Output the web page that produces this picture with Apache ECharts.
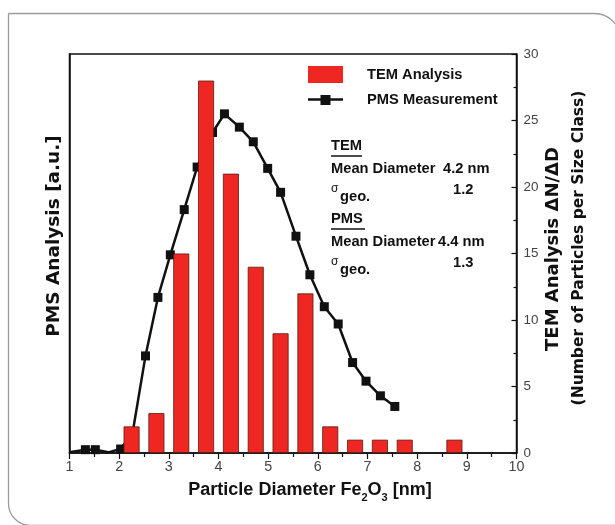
<!DOCTYPE html>
<html>
<head>
<meta charset="utf-8">
<script src="https://cdn.jsdelivr.net/npm/echarts@6/dist/echarts.min.js"></script>
<style>html,body{margin:0;padding:0;background:#fff;}#c{width:615px;height:525px;}</style>
</head>
<body>
<div id="c"></div>
<script>
// ---- data ----
const temX = [2.25, 2.75, 3.25, 3.75, 4.25, 4.75, 5.25, 5.75, 6.25, 6.75, 7.25, 7.75, 8.75];
const temY = [2, 3, 15, 28, 21, 14, 9, 12, 2, 1, 1, 1, 1];
const pmsX = [1.0, 1.32, 1.52, 1.78, 2.03, 2.27, 2.53, 2.78, 3.03, 3.31, 3.57, 3.88, 4.12, 4.42, 4.70, 4.99, 5.25, 5.56, 5.84, 6.13, 6.41, 6.70, 6.97, 7.26, 7.55];
const pmsY = [0.05, 0.25, 0.25, 0.05, 0.3, 1.5, 7.3, 11.7, 14.9, 18.3, 21.5, 24.1, 25.5, 24.5, 23.4, 21.4, 19.6, 16.3, 13.4, 11.0, 9.7, 6.8, 5.4, 4.3, 3.5];
const xTicks = ['1','2','3','4','5','6','7','8','9','10'];
const yTicks = ['0','5','10','15','20','25','30'];
const seriesNames = ['TEM Analysis', 'PMS Measurement'];

function hasFont(name){
  const c = document.createElement('canvas').getContext('2d');
  const s = 'abcdefghijklmnopqrstuvwxyzABCDEFGHIJ0123456789';
  c.font = '40px monospace'; const w1 = c.measureText(s).width;
  c.font = '40px "' + name + '", monospace'; const w2 = c.measureText(s).width;
  return Math.abs(w1 - w2) > 0.5;
}
const NARROW = hasFont('Liberation Sans Narrow');
const NF = NARROW ? '"Liberation Sans Narrow", "Liberation Sans", sans-serif' : '"Liberation Sans", Arial, sans-serif';
const K = NARROW ? 1 : 0.84;
const WF = '"DejaVu Sans", sans-serif';
const AF = '"Liberation Sans", Arial, sans-serif';

const chart = echarts.init(document.getElementById('c'), null, {renderer: 'canvas'});

// points whose marker is not drawn (line passes through the axis / is hidden)
const hiddenMarker = new Set([0, 3]);

// legend icon for the line series: line with a small square marker (35 x 17 box)
const lineIcon = 'path://M0,0L0.01,0L0.01,0.01ZM35,17L34.99,17L34.99,16.99Z' +
  'M0,7.2L35,7.2L35,9.8L0,9.8Z' +
  'M12.5,4L22.5,4L22.5,14L12.5,14Z';

const txt = (x, y, text, size, opts) => Object.assign({
  type: 'text', x: x, y: y, z: 10,
  style: Object.assign({text: text, font: 'bold ' + size + 'px ' + NF, fill: '#111', align: 'left', verticalAlign: 'middle'}, opts || {})
});

const option = {
  backgroundColor: '#fff',
  animation: false,
  grid: {left: 69.5, right: 98.5, top: 54, bottom: 72, show: true, borderColor: '#111', borderWidth: 1.5, backgroundColor: 'transparent'},
  legend: {
    data: [
      {name: seriesNames[0], icon: 'rect', itemStyle: {borderWidth: 0}},
      {name: seriesNames[1], icon: lineIcon, itemStyle: {borderWidth: 0, color: '#111'}}
    ],
    orient: 'vertical', left: 308, top: 66, padding: 0,
    itemWidth: 35, itemHeight: 17, itemGap: 8,
    textStyle: {fontFamily: NF, fontWeight: 'bold', fontSize: 17.5 * K, color: '#111', lineHeight: 17, padding: [0, 0, 0, 19]}
  },
  xAxis: {
    type: 'value', min: 1, max: 10, interval: 1,
    axisLine: {show: true, lineStyle: {color: '#111', width: 1.5}},
    axisTick: {show: true, inside: false, length: 6, lineStyle: {color: '#111', width: 1.2}},
    minorTick: {show: true, splitNumber: 2, length: 4, lineStyle: {color: '#111', width: 1.2}},
    splitLine: {show: false},
    axisLabel: {margin: 7, fontFamily: NF, fontSize: 17 * K, color: '#444', formatter: (v) => xTicks[Math.round(v) - 1]}
  },
  yAxis: [
    {
      type: 'value', position: 'left', min: 0, max: 30, interval: 5,
      axisLine: {show: true, lineStyle: {color: '#111', width: 1.5}},
      axisTick: {show: false}, axisLabel: {show: false}, splitLine: {show: false}
    },
    {
      type: 'value', position: 'right', min: 0, max: 30, interval: 5,
      axisLine: {show: true, lineStyle: {color: '#111', width: 1.5}},
      axisTick: {show: true, inside: true, length: 5, lineStyle: {color: '#111', width: 1.2}},
      minorTick: {show: true, splitNumber: 2, length: 3, lineStyle: {color: '#111', width: 1.2}},
      splitLine: {show: false},
      axisLabel: {margin: 7, fontFamily: NF, fontSize: 16 * K, color: '#444', formatter: (v) => yTicks[Math.round(v / 5)]}
    }
  ],
  series: [
    {
      name: seriesNames[1], type: 'line', yAxisIndex: 0,
      data: pmsX.map((x, i) => hiddenMarker.has(i) ? {value: [x, pmsY[i]], symbol: 'none'} : [x, pmsY[i]]),
      symbol: 'rect',
      symbolSize: 9,
      lineStyle: {color: '#111', width: 2.5},
      itemStyle: {color: '#111'},
      z: 2
    },
    {
      name: seriesNames[0], type: 'bar', yAxisIndex: 1,
      data: temX.map((x, i) => [x, temY[i]]),
      barWidth: 16,
      itemStyle: {color: '#ee2722', borderColor: '#5a1a14', borderWidth: 0.8},
      z: 3
    }
  ],
  graphic: [
    {type: 'rect', z: -1, silent: true, shape: {x: 8.5, y: 13.5, width: 612, height: 512, r: [0, 26, 0, 22]},
      style: {fill: 'none', stroke: '#9a9a9a', lineWidth: 1.3}},
    // x axis title
    {type: 'text', x: 310, y: 490, z: 10, style: {
      text: '{a|Particle Diameter Fe}{s|2}{a|O}{s|3}{a| [nm]}', align: 'center', verticalAlign: 'middle',
      rich: {a: {font: 'bold 18px ' + AF, fill: '#111', lineHeight: 26},
             s: {font: 'bold 11px ' + AF, fill: '#111', lineHeight: 11, verticalAlign: 'bottom'}}
    }},
    // left axis title
    {type: 'text', x: 54, y: 236, rotation: Math.PI / 2, z: 10, style: {
      text: 'PMS Analysis [a.u.]', font: 'bold 18.5px ' + WF, fill: '#111', align: 'center', verticalAlign: 'middle'}},
    // right axis titles
    {type: 'text', x: 553, y: 249, rotation: Math.PI / 2, z: 10, style: {
      text: 'TEM Analysis \u0394N/\u0394D', font: 'bold 18px ' + WF, fill: '#111', align: 'center', verticalAlign: 'middle'}},
    {type: 'text', x: 579, y: 248, rotation: Math.PI / 2, z: 10, style: {
      text: '(Number of Particles per Size Class)', font: 'bold 15.5px ' + WF, fill: '#111', align: 'center', verticalAlign: 'middle'}},
    // annotations
    txt(331, 146, 'TEM', 17.5 * K),
    {type: 'line', z: 10, shape: {x1: 331, y1: 156, x2: 362, y2: 156}, style: {stroke: '#111', lineWidth: 1.5}},
    txt(331, 169, 'Mean Diameter', 17.5 * K),
    txt(443, 169, '4.2 nm', 17.5 * K),
    txt(331, 188.5, '\u03c3', 12, {font: '12px ' + AF}),
    txt(340, 196.5, 'geo.', 17.5 * K),
    txt(453, 189.5, '1.2', 17.5 * K),
    txt(331, 219, 'PMS', 17.5 * K),
    {type: 'line', z: 10, shape: {x1: 331, y1: 229, x2: 365, y2: 229}, style: {stroke: '#111', lineWidth: 1.5}},
    txt(331, 242, 'Mean Diameter', 17.5 * K),
    txt(438, 242, '4.4 nm', 17.5 * K),
    txt(331, 261.5, '\u03c3', 12, {font: '12px ' + AF}),
    txt(340, 269.5, 'geo.', 17.5 * K),
    txt(453, 262.5, '1.3', 17.5 * K)
  ]
};
chart.setOption(option);
</script>
</body>
</html>
